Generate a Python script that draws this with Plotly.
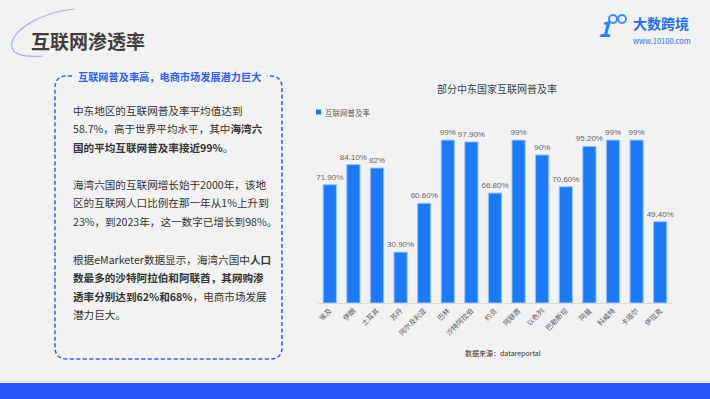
import plotly.graph_objects as go

countries = ["埃及", "伊朗", "土耳其", "苏丹", "阿尔及利亚", "巴林", "沙特阿拉伯", "约旦",
             "阿联酋", "以色列", "巴勒斯坦", "阿曼", "科威特", "卡塔尔", "伊拉克"]
penetration = [71.9, 84.1, 82, 30.9, 60.6, 99, 97.9, 66.8, 99, 90, 70.6, 95.2, 99, 99, 49.4]
value_labels = ["71.90%", "84.10%", "82%", "30.90%", "60.60%", "99%", "97.90%", "66.80%",
                "99%", "90%", "70.60%", "95.20%", "99%", "99%", "49.40%"]

page_title = "互联网渗透率"
box_title = "互联网普及率高，电商市场发展潜力巨大"
chart_title = "部分中东国家互联网普及率"
series_name = "互联网普及率"
source_text = "数据来源：datareportal"
paragraph_lines = [
    "中东地区的互联网普及率平均值达到",
    "58.7%，高于世界平均水平，其中<b>海湾六</b>",
    "<b>国的平均互联网普及率接近99%</b>。",
    "海湾六国的互联网增长始于2000年，该地",
    "区的互联网人口比例在那一年从1%上升到",
    "23%，到2023年，这一数字已增长到98%。",
    "根据eMarketer数据显示，海湾六国中<b>人口</b>",
    "<b>数最多的沙特阿拉伯和阿联酋，其网购渗</b>",
    "<b>透率分别达到62%和68%</b>，电商市场发展",
    "潜力巨大。",
]
line_y = [110, 128.5, 147, 184, 202.5, 221, 259, 277.5, 296, 314.5]

W, H = 710, 399
FONT = "Noto Sans CJK SC"
BLUE = "#1a7af8"

fig = go.Figure()
fig.add_trace(go.Bar(
    x=countries, y=penetration, text=value_labels, textposition="outside",
    textfont=dict(size=8, color="#666666", family="Liberation Sans, Arial"), cliponaxis=False,
    constraintext="none",
    marker=dict(color=BLUE, line=dict(color="#9cc2fb", width=1)),
    width=0.56, showlegend=False, hoverinfo="skip",
))
# helper overlay axes in pixel units
fig.add_trace(go.Scatter(x=[0, W], y=[0, H], mode="none", xaxis="x2", yaxis="y2",
                         showlegend=False, hoverinfo="skip"))

shapes = []
shapes.append(dict(type="rect", xref="x2", yref="y2", x0=0, x1=W, y0=383, y1=H,
                   fillcolor="#2356f2", line=dict(width=0), layer="below"))
shapes.append(dict(type="line", xref="x2", yref="y2", x0=0, x1=W, y0=382, y1=382,
                   line=dict(color="#dcdcdc", width=1), layer="below"))
shapes.append(dict(type="path", xref="x2", yref="y2",
                   path="M 75 9 C 40 12, 8 32, 12 48 Q 15 58, 43 56",
                   line=dict(color="#a9b0f2", width=1.2), layer="below"))
L, R, T, B, r = 55, 282, 76, 359, 12
box = (f"M 72 {T} L {L+r} {T} Q {L} {T}, {L} {T+r} L {L} {B-r} Q {L} {B}, {L+r} {B} "
       f"L {R-r} {B} Q {R} {B}, {R} {B-r} L {R} {T+r} Q {R} {T}, {R-r} {T} L 267 {T}")
shapes.append(dict(type="path", xref="x2", yref="y2", path=box,
                   line=dict(color="#2f5ff0", width=1.5, dash="4px,2.5px"), layer="below"))
shapes.append(dict(type="rect", xref="x2", yref="y2", x0=316, x1=321, y0=109.5, y1=114.5,
                   fillcolor=BLUE, line=dict(width=0)))
shapes.append(dict(type="circle", xref="x2", yref="y2", x0=609, x1=617, y0=15, y1=23,
                   line=dict(color="#3d8ff5", width=2)))
shapes.append(dict(type="circle", xref="x2", yref="y2", x0=618, x1=626, y0=15, y1=23,
                   line=dict(color="#3d8ff5", width=2)))

ann = []
def txt(x, y, s, size, color, xanchor="left", bold=False, family=FONT):
    ann.append(dict(xref="x2", yref="y2", x=x, y=y, text=(f"<b>{s}</b>" if bold else s),
                    showarrow=False, xanchor=xanchor, yanchor="middle",
                    font=dict(family=family, size=size, color=color)))

txt(29, 40, page_title, 19, "#3f3f3f", bold=True)
txt(169.5, 76, box_title, 10.2, "#2f5ff0", xanchor="center", bold=True)
for s, y in zip(paragraph_lines, line_y):
    txt(71, y, s, 10.6, "#333333")
txt(497, 88, chart_title, 10, "#404040", xanchor="center")
txt(323, 112, series_name, 7.5, "#595959")
txt(503, 353, source_text, 7, "#333333", xanchor="center")
txt(596, 27, "<i>1</i>", 22, "#2d7ff3", bold=True)
txt(631, 23, "大数跨境", 14, "#1e6fe8", bold=True)
txt(631, 40, "www.10100.com", 7.5, "#1e6fe8")

fig.update_layout(
    width=W, height=H, margin=dict(l=0, r=0, t=0, b=0),
    paper_bgcolor="#f2f2f2", plot_bgcolor="rgba(0,0,0,0)",
    xaxis=dict(domain=[318 / W, 672 / W], showline=True, linecolor="#d9d9d9", linewidth=1,
               showgrid=False, zeroline=False, tickangle=-45, ticks="",
               tickfont=dict(family=FONT, size=7, color="#595959"), fixedrange=True),
    yaxis=dict(domain=[1 - 303 / H, 1 - 122 / H], range=[0, 110], visible=False,
               showgrid=False, fixedrange=True),
    xaxis2=dict(domain=[0, 1], range=[0, W], visible=False, anchor="y2"),
    yaxis2=dict(domain=[0, 1], range=[H, 0], visible=False, anchor="x2"),
    shapes=shapes, annotations=ann, showlegend=False,
)
fig.write_html("out.html")
